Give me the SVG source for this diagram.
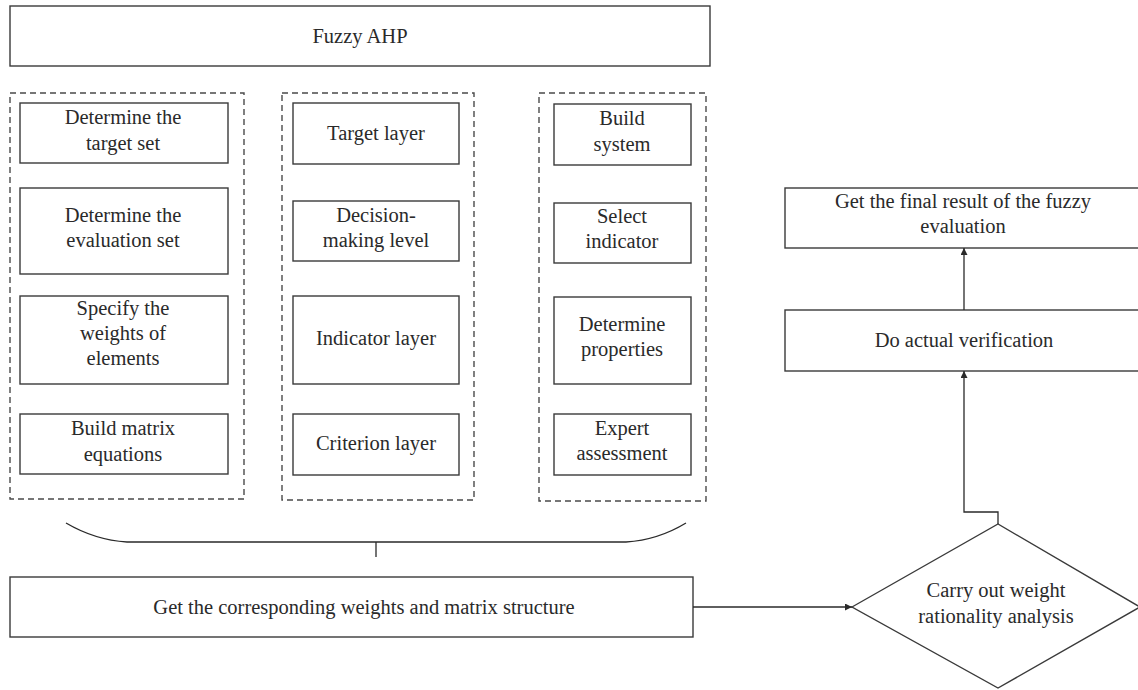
<svg xmlns="http://www.w3.org/2000/svg" width="1138" height="690" viewBox="0 0 1138 690">
<defs>
<style>
.box{fill:#fff;stroke:#3a3a3a;stroke-width:1.4}
.grp{fill:none;stroke:#4a4a4a;stroke-width:1.4;stroke-dasharray:6 4}
.t{font-family:"Liberation Serif","Times New Roman",serif;font-size:20.5px;fill:#2a2a2a;text-anchor:middle}
.ln{fill:none;stroke:#2a2a2a;stroke-width:1.3}
</style>
<marker id="ah" viewBox="0 0 10 10" refX="10" refY="5" markerWidth="7" markerHeight="7" markerUnits="userSpaceOnUse" orient="auto">
<path d="M0,0 L10,5 L0,10 z" fill="#2a2a2a"/>
</marker>
</defs>
<rect width="1138" height="690" fill="#fff"/>

<g id="fuzzy-ahp"><rect class="box" x="10" y="6" width="700" height="60"/><text class="t" x="360" y="43">Fuzzy AHP</text></g>

<g id="group-left"><rect class="grp" x="10" y="93" width="234" height="406"/></g>
<g id="group-mid"><rect class="grp" x="282" y="93" width="192" height="407"/></g>
<g id="group-right"><rect class="grp" x="539" y="93" width="167" height="408"/></g>

<g id="target-set"><rect class="box" x="20" y="103" width="208" height="60"/><text class="t" x="123" y="124">Determine the</text><text class="t" x="123" y="150">target set</text></g>
<g id="evaluation-set"><rect class="box" x="20" y="188" width="208" height="86"/><text class="t" x="123" y="222">Determine the</text><text class="t" x="123" y="247">evaluation set</text></g>
<g id="weights-elements"><rect class="box" x="20" y="296" width="208" height="88"/><text class="t" x="123" y="315">Specify the</text><text class="t" x="123" y="340">weights of</text><text class="t" x="123" y="365">elements</text></g>
<g id="matrix-equations"><rect class="box" x="20" y="414" width="208" height="60"/><text class="t" x="123" y="435">Build matrix</text><text class="t" x="123" y="461">equations</text></g>

<g id="target-layer"><rect class="box" x="293" y="103" width="166" height="61"/><text class="t" x="376" y="140">Target layer</text></g>
<g id="decision-level"><rect class="box" x="293" y="201" width="166" height="60"/><text class="t" x="376" y="222">Decision-</text><text class="t" x="376" y="247">making level</text></g>
<g id="indicator-layer"><rect class="box" x="293" y="296" width="166" height="88"/><text class="t" x="376" y="345">Indicator layer</text></g>
<g id="criterion-layer"><rect class="box" x="293" y="414" width="166" height="61"/><text class="t" x="376" y="450">Criterion layer</text></g>

<g id="build-system"><rect class="box" x="554" y="104" width="137" height="61"/><text class="t" x="622" y="125">Build</text><text class="t" x="622" y="151">system</text></g>
<g id="select-indicator"><rect class="box" x="554" y="203" width="137" height="60"/><text class="t" x="622" y="223">Select</text><text class="t" x="622" y="248">indicator</text></g>
<g id="determine-properties"><rect class="box" x="554" y="297" width="137" height="87"/><text class="t" x="622" y="331">Determine</text><text class="t" x="622" y="356">properties</text></g>
<g id="expert-assessment"><rect class="box" x="554" y="414" width="137" height="61"/><text class="t" x="622" y="435">Expert</text><text class="t" x="622" y="460">assessment</text></g>

<g id="final-result"><rect class="box" x="785" y="188" width="358" height="60"/><text class="t" x="963" y="208">Get the final result of the fuzzy</text><text class="t" x="963" y="233">evaluation</text></g>
<g id="verification"><rect class="box" x="785" y="310" width="358" height="61"/><text class="t" x="964" y="347">Do actual verification</text></g>
<g id="weights-matrix"><rect class="box" x="10" y="577" width="683" height="60"/><text class="t" x="364" y="614">Get the corresponding weights and matrix structure</text></g>
<g id="rationality"><polygon class="box" points="852,607 998,524 1140,607 998,688"/><text class="t" x="996" y="597">Carry out weight</text><text class="t" x="996" y="623">rationality analysis</text></g>

<g id="connectors">
<path class="ln" d="M66,523 Q95,540 127,542 L626,542 Q658,540 686,523"/>
<line class="ln" x1="376" y1="542" x2="376" y2="557"/>
<line class="ln" x1="693" y1="607" x2="852" y2="607" marker-end="url(#ah)"/>
<polyline class="ln" points="998,524 998,512 964,512 964,371" marker-end="url(#ah)"/>
<line class="ln" x1="964" y1="310" x2="964" y2="248" marker-end="url(#ah)"/>
</g>
</svg>
